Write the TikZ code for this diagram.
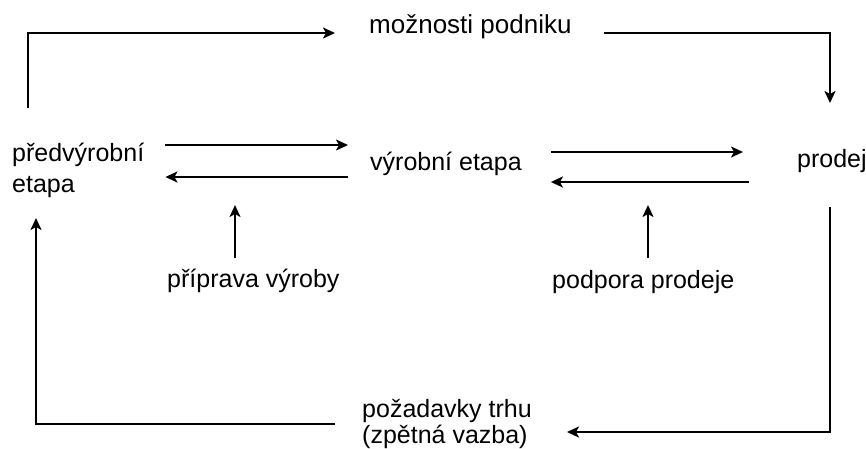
\documentclass[tikz,border=0pt]{standalone}
\usepackage{fontspec}
\setmainfont{Liberation Sans}
\usetikzlibrary{arrows.meta}
\begin{document}
\begin{tikzpicture}[x=1pt, y=-1pt, inner sep=0pt,
    lbl/.style={anchor=base west, align=left, font=\fontsize{25}{31}\selectfont},
    ln/.style={line width=2.2pt},
    arr/.style={ln, -{Stealth[length=12pt, width=11pt, inset=3pt]}}]
    \useasboundingbox (0,0) rectangle (866,448);
    \node[lbl, font=\fontsize{26}{31}\selectfont] (moz) at (369,33) {možnosti podniku};
    \node[lbl] (pred) at (12,192) {předvýrobní\\etapa};
    \node[lbl] (vyr) at (370,170) {výrobní etapa};
    \node[lbl] (prod) at (797,167) {prodej};
    \node[lbl] (prip) at (167,287) {příprava výroby};
    \node[lbl] (podp) at (552,288) {podpora prodeje};
    \node[lbl, font=\fontsize{25}{26}\selectfont] (poz) at (362,443) {požadavky trhu\\(zpětná vazba)};
    % outer loop
    \draw[arr] ([xshift=16pt,yshift=84pt]pred.base west) |- ([xshift=-34pt]moz.base west);
    \draw[arr] ([xshift=32pt]moz.base east) -| ([xshift=33pt,yshift=64pt]prod.base west);
    \draw[arr] ([xshift=33pt,yshift=-40pt]prod.base west) |- ([xshift=35pt,yshift=11pt]poz.base east);
    \draw[arr] ([xshift=-27pt,yshift=19pt]poz.base west) -| ([xshift=24pt,yshift=-26pt]pred.base west);
    % between stages
    \draw[arr] ([xshift=21pt,yshift=47pt]pred.base east) -- ([xshift=-22pt,yshift=25pt]vyr.base west);
    \draw[arr] ([xshift=-22pt,yshift=-7pt]vyr.base west) -- ([xshift=21pt,yshift=15pt]pred.base east);
    \draw[arr] ([xshift=29pt,yshift=18pt]vyr.base east) -- ([xshift=-54pt,yshift=15pt]prod.base west);
    \draw[arr] ([xshift=-48pt,yshift=-15pt]prod.base west) -- ([xshift=29pt,yshift=-12pt]vyr.base east);
    % support
    \draw[arr] ([xshift=68pt,yshift=29pt]prip.base west) -- ++(0,-53);
    \draw[arr] ([xshift=96pt,yshift=30pt]podp.base west) -- ++(0,-53);
\end{tikzpicture}
\end{document}
